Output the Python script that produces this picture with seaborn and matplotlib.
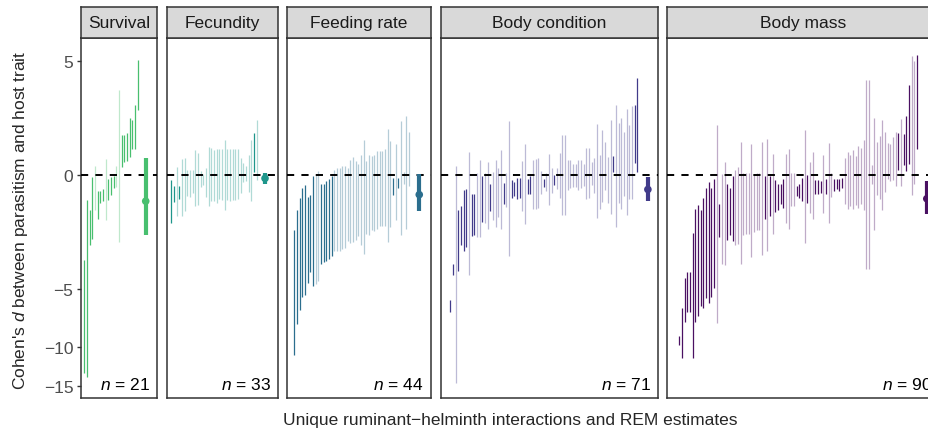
import numpy as np
import pandas as pd
import matplotlib
matplotlib.use("Agg")
import matplotlib.pyplot as plt
import seaborn as sns

# 每个性状的研究区间 (按估计值排序, 从左到右)
traits = ["Survival", "Fecundity", "Feeding rate", "Body condition", "Body mass"]

survival_lo = [-13.2, -13.7, -2.5, -2.25, -1.1, -1.42, -0.83, -0.78, -1.45, -0.73, -0.58,
               -0.38, -0.35, -2.4, 0.21, 0.36, 0.40, 0.51, 0.77, 0.79, 2.3]
survival_hi = [-3.3, -0.73, -1.1, -0.04, 0.25, -0.47, -0.47, -0.41, 0.45, -0.11, -0.06,
               -0.02, 0.25, 3.3, 1.27, 1.27, 1.34, 1.95, 1.85, 2.54, 5.1]

fecundity_lo = [-1.59, -0.81, -1.30, -0.70, -1.30, -1.12, -0.61, -0.63, -0.51, -0.96, -0.91,
                -0.34, -0.29, -0.63, -0.96, -0.78, -0.78, -0.83, -0.72, -0.75, -1.09, -0.74,
                -0.76, -0.73, -0.75, -0.72, -0.51, -0.18, -0.17, -0.49, -0.78, 0.08, -0.14]
fecundity_hi = [-0.14, -0.31, 0.22, -0.31, 0.45, 0.49, 0.13, 0.13, 0.13, 0.73, 0.65,
                0.11, 0.04, 0.18, 0.84, 0.82, 0.73, 0.77, 0.77, 0.77, 1.07, 0.77,
                0.76, 0.78, 0.77, 0.77, 0.50, 0.35, 0.25, 0.58, 1.07, 1.33, 1.84]

feeding_lo = [-10.97, -7.72, -6.53, -5.60, -5.45, -4.62, -3.96, -4.84, -4.68, -4.51,
              -3.47, -3.40, -3.34, -3.25, -3.08, -2.83, -2.83, -2.83, -2.71, -2.68,
              -2.32, -2.45, -2.39, -2.27, -2.12, -2.50, -2.94, -2.01, -2.05, -1.87,
              -1.91, -1.80, -1.70, -1.70, -1.70, -2.39, -1.74, -0.59, -1.44, -0.38,
              -2.05, -0.24, -1.83, -0.31]
feeding_hi = [-1.87, -1.07, -0.69, -0.36, -0.29, -0.66, -0.57, -0.02, 0.03, 0.12,
              -0.26, -0.24, -0.17, -0.12, -0.02, 0.15, 0.18, 0.18, 0.26, 0.26,
              0.18, 0.44, 0.51, 0.39, 0.32, 0.57, 1.07, 0.41, 0.57, 0.55,
              0.58, 0.70, 0.70, 0.70, 0.76, 1.48, 1.04, -0.08, 0.93, -0.08,
              1.81, 0.09, 2.02, 1.37]

condition_lo = [-6.75, -4.14, -14.6, -3.90, -2.53, -2.83, -2.63, -4.14, -2.12, -2.05,
                -2.17, -2.17, -1.54, -1.59, -1.82, -1.13, -1.46, -1.74, -1.35, -1.82,
                -0.88, -0.99, -3.08, -0.68, -0.62, -0.72, -0.68, -1.13, -1.62, -0.56,
                -0.56, -1.06, -1.06, -1.01, -0.56, -0.34, -0.47, -0.92, -0.53, -0.29,
                -0.41, -0.69, -1.27, -1.27, -0.43, -0.38, -0.33, -0.33, -0.43, -0.38,
                -0.31, -0.70, -0.68, -0.27, -0.53, -1.38, -1.06, -0.81, -0.43, -0.85,
                -1.24, 0.07, -1.72, -0.85, -1.04, -0.61, -1.25, -0.71, -0.71, 0.33, 0.08]
condition_hi = [-5.77, -3.52, 0.26, -1.10, -0.96, -0.44, -0.41, 0.67, -0.54, -0.54,
                0.06, 0.44, -0.03, 0.06, 0.38, -0.26, 0.08, 0.44, 0.18, 0.73,
                -0.22, 0.06, 1.83, -0.15, -0.18, -0.07, -0.07, 0.41, 0.93, -0.10,
                -0.03, 0.44, 0.47, 0.50, 0.10, -0.12, 0.06, 0.60, 0.18, -0.01,
                0.18, 0.66, 1.26, 1.26, 0.42, 0.42, 0.32, 0.32, 0.42, 0.42,
                0.32, 0.80, 0.80, 0.38, 0.48, 1.68, 0.58, 1.44, 1.00, 0.51,
                1.84, 0.54, 2.51, 1.73, 1.93, 1.38, 2.32, 1.64, 2.46, 2.51, 3.93]

mass_lo = [-9.76, -11.25, -7.54, -6.75, -6.75, -11.25, -7.60, -7.08, -6.27, -6.45,
           -5.69, -6.04, -5.60, -4.97, -7.69, -2.17, -3.47, -3.56, -2.31, -2.05,
           -2.36, -2.51, -2.49, -3.50, -2.05, -2.01, -2.01, -3.13, -1.95, -1.87,
           -1.87, -3.03, -1.42, -2.83, -1.31, -2.01, -1.16, -1.09, -0.87, -1.01,
           -1.57, -1.82, -0.95, -0.95, -0.61, -0.69, -0.78, -2.43, -0.85, -1.18,
           -1.43, -0.56, -0.54, -0.53, -1.20, -0.56, -1.57, -0.66, -0.46, -0.41,
           -0.46, -0.38, -0.89, -1.06, -0.95, -1.06, -0.92, -1.00, -0.86, -1.10,
           -3.79, -3.79, -0.26, -1.87, -0.59, -0.72, -1.10, -0.49, -0.12, -0.17,
           -0.14, -0.31, 0.13, -0.31, 0.28, 0.10, 0.30, -0.58, -0.26, 0.78]
mass_hi = [-8.91, -6.40, -4.30, -3.94, -3.94, -1.98, -1.04, -0.90, -1.10, -0.67,
           -0.38, -0.19, -0.36, -0.10, 1.67, -0.89, 0.04, 0.37, -0.26, -0.38,
           -0.03, 0.15, 0.22, 1.02, 0.06, 0.06, 0.06, 0.93, 0.02, 0.06,
           0.06, 1.00, -0.03, 1.13, -0.03, 0.60, -0.15, -0.26, -0.24, -0.10,
           0.60, 0.76, 0.06, 0.06, -0.31, -0.24, -0.07, 1.44, -0.01, 0.38,
           0.67, -0.15, -0.15, -0.17, 0.57, -0.12, 0.97, 0.06, -0.12, -0.12,
           -0.10, -0.09, 0.48, 0.67, 0.57, 0.73, 0.54, 0.86, 0.82, 1.07,
           3.82, 3.82, 0.27, 1.93, 1.00, 1.22, 1.84, 1.37, 0.97, 0.93,
           1.18, 1.37, 1.33, 1.89, 1.29, 2.01, 3.53, 5.35, 5.00, 5.42]

# REM 汇总估计
rem_est = [-0.78, -0.09, -0.57, -0.41, -0.70]
rem_lo = [-2.05, -0.26, -1.13, -0.78, -1.23]
rem_hi = [0.49, 0.06, 0.04, -0.04, -0.17]

colors = ["#48BF6F", "#1F968B", "#2B6E8E", "#413B8A", "#4A1062"]

# 长表
los = [survival_lo, fecundity_lo, feeding_lo, condition_lo, mass_lo]
his = [survival_hi, fecundity_hi, feeding_hi, condition_hi, mass_hi]
rows = []
for t, lo, hi in zip(traits, los, his):
    for i, (a, b) in enumerate(zip(lo, hi)):
        rows.append({"trait": t, "idx": i + 1, "lo": a, "hi": b})
df = pd.DataFrame(rows)
df["sig"] = (df["lo"] > 0) | (df["hi"] < 0)

sns.set_theme(style="white")
plt.rcParams["font.family"] = ["Liberation Sans", "DejaVu Sans"]
plt.rcParams["mathtext.fontset"] = "custom"
plt.rcParams["mathtext.it"] = "Liberation Sans:italic"
plt.rcParams["mathtext.rm"] = "Liberation Sans"

fig = plt.figure(figsize=(9.29, 4.31), dpi=100)

# 版面 (像素)
W, H = 929, 431
px_left = [81, 166.7, 287.3, 440.7, 667.3]
px_right = [157, 277.7, 430.7, 657.7, 939]
px_first = [84.3, 171.3, 294.3, 450.3, 679.3]
rem_gap = [3.0, 3.1, 3.8, 4.0, 3.7]
step = 2.67
top, bottom, strip_top = 39.3, 399, 7.7
edge = "#333333"


def fwd(y):
    return np.sign(y) * np.log1p(np.abs(y) / 3.3)


def inv(t):
    return np.sign(t) * 3.3 * np.expm1(np.abs(t))


for k, t in enumerate(traits):
    L, R, F = px_left[k], px_right[k], px_first[k]
    c = colors[k]
    ax = fig.add_axes([L / W, 1 - bottom / H, (R - L) / W, (bottom - top) / H])
    ax.set_yscale("function", functions=(fwd, inv))
    d = df[df["trait"] == t]
    ns = d[~d["sig"]]
    s = d[d["sig"]]
    ax.vlines(ns["idx"], ns["lo"], ns["hi"], color=c, alpha=0.35, lw=0.9, zorder=2)
    ax.vlines(s["idx"], s["lo"], s["hi"], color=c, lw=0.9, zorder=2)
    ax.axhline(0, color="black", lw=1.4, ls=(0, (3.7, 3.7)), zorder=3)

    n = len(d)
    xr = n + rem_gap[k]
    ax.vlines([xr], [rem_lo[k]], [rem_hi[k]], color=c, lw=3.0, zorder=4)
    sns.scatterplot(x=[xr], y=[rem_est[k]], color=c, s=30, edgecolor="none",
                    ax=ax, zorder=5, legend=False)

    ax.set_xlim(1 - (F - L) / step, 1 + (R - F) / step)
    ax.set_ylim(-16.86, 6.71)
    ax.set_xticks([])
    ax.set_xlabel("")
    ax.set_ylabel("")
    if k == 0:
        ax.set_yticks([-15, -10, -5, 0, 5])
        ax.set_yticklabels(["\u221215", "\u221210", "\u22125", "0", "5"])
        ax.yaxis.set_minor_locator(matplotlib.ticker.NullLocator())
        ax.tick_params(axis="y", left=True, length=3, width=1.0, color=edge,
                       labelsize=12.5, labelcolor="#4D4D4D", pad=2.5)
    else:
        ax.set_yticks([])
        ax.yaxis.set_minor_locator(matplotlib.ticker.NullLocator())
    for sp in ax.spines.values():
        sp.set_color(edge)
        sp.set_linewidth(1.1)

    ax.text(1 - 7 / (R - L), 9 / (bottom - top), f"$n$ = {n}", transform=ax.transAxes,
            ha="right", va="baseline", fontsize=12.5, color="black")

    # 分面标题
    sax = fig.add_axes([L / W, 1 - top / H, (R - L) / W, (top - strip_top) / H])
    sax.set_facecolor("#D9D9D9")
    sax.set_xticks([])
    sax.set_yticks([])
    for sp in sax.spines.values():
        sp.set_color(edge)
        sp.set_linewidth(1.1)
    sax.text(0.5, 0.5, t, transform=sax.transAxes, ha="center", va="center",
             fontsize=12.5, color="#1A1A1A")

fig.text(21 / W, 1 - 220 / H, "Cohen's $d$ between parasitism and host trait",
         rotation=90, ha="center", va="center", fontsize=12.5)
fig.text(510 / W, 1 - 421 / H, "Unique ruminant\u2212helminth interactions and REM estimates",
         ha="center", va="center", fontsize=12.5)

fig.savefig("out.png", dpi=100)
